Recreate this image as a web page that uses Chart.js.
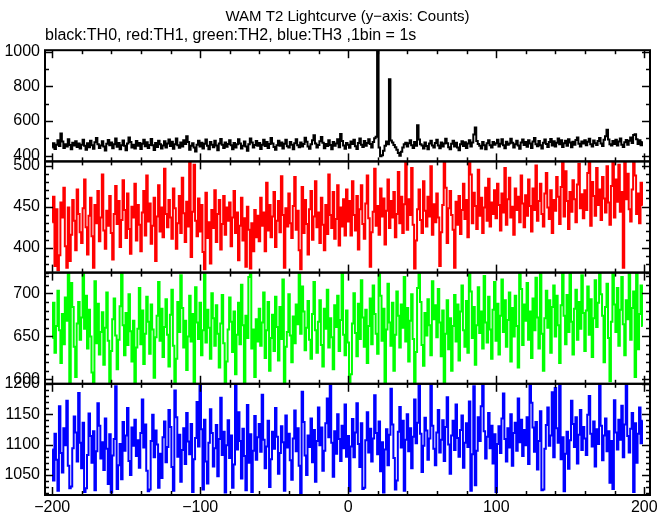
<!DOCTYPE html>
<html>
<head>
<meta charset="utf-8">
<script src="https://cdn.jsdelivr.net/npm/chart.js@4/dist/chart.umd.min.js"></script>
<style>
html,body{margin:0;padding:0;background:#fff;}
#wrap{width:669px;height:515px;}
</style>
</head>
<body>
<div id="wrap"><canvas id="c" width="669" height="515"></canvas></div>
<script>
// ---- data (counts per 1 s bin) ----
const binStart = -200;   // time of first bin (s)
const binWidth = 1;      // 1bin = 1s

const th0 = [
447,471,438,462,489,455,527,481,443,466,452,494,461,436,474,458,483,449,470,441,
463,492,457,434,471,448,486,460,439,477,501,466,444,458,482,453,429,468,490,459,
476,442,465,499,451,473,436,460,487,456,431,469,505,478,447,462,440,484,457,472,
438,468,491,454,477,443,461,496,459,432,473,450,486,465,441,458,482,447,469,493,
455,480,439,466,498,460,445,475,452,489,467,511,478,434,457,471,446,424,463,485,
452,474,441,468,493,457,437,479,462,448,485,458,430,470,496,463,444,476,451,467,
489,459,436,472,447,465,494,469,440,457,481,453,428,466,499,475,446,461,484,456,
472,438,463,491,455,478,444,467,502,470,449,433,460,486,457,475,441,468,492,454,
446,479,463,437,471,494,459,448,476,453,467,503,480,452,439,465,488,518,470,447,
461,483,507,474,442,467,455,489,461,436,478,457,470,495,448,524,484,458,439,473,
462,445,481,467,491,454,438,472,498,463,450,484,456,473,495,467,447,478,500,509,
1030,446,396,402,428,457,481,466,842,487,476,461,448,434,414,399,422,447,465,474,
452,471,488,460,443,479,457,575,493,466,458,440,475,455,437,470,486,458,447,473,
491,458,442,476,453,469,497,471,448,436,468,485,452,474,446,431,465,482,455,477,
444,470,489,452,476,522,563,484,467,457,441,478,460,436,471,488,459,446,479,463,
471,492,453,468,495,459,442,480,462,469,497,474,447,466,486,458,439,476,493,461,
478,451,488,469,444,481,502,465,454,484,460,441,474,493,467,449,479,496,458,482,
453,474,499,466,488,450,471,486,457,494,476,448,480,463,490,505,468,452,481,470,
488,459,480,497,465,452,487,471,461,484,501,469,455,491,512,549,493,466,458,484,
467,492,458,481,498,463,449,477,490,462,485,504,472,519,523,494,467,488,460,479
];
const th1 = [
431,462,378,447,373,391,455,437,473,402,376,449,384,416,458,433,397,471,441,419,
406,448,483,425,392,439,461,414,376,452,430,469,408,437,489,421,399,445,427,463,
418,386,441,475,429,457,401,434,482,446,412,466,423,393,450,437,478,409,452,428,
396,443,469,415,488,432,454,405,427,461,384,438,476,420,449,413,496,441,425,458,
437,411,472,448,399,430,463,418,485,442,407,456,426,504,389,444,501,433,414,460,
420,452,395,374,467,412,431,381,446,424,470,407,441,458,398,429,463,416,449,433,
455,402,437,469,418,443,385,427,461,409,436,377,450,422,375,430,396,446,413,439,
408,461,427,443,396,479,421,452,413,438,468,401,433,457,419,487,440,376,448,426,
466,430,412,451,486,422,445,397,374,474,418,458,429,392,447,469,410,438,481,425,
443,406,461,428,397,452,417,489,440,424,468,411,435,476,403,449,426,459,415,471,
432,457,415,481,440,421,463,398,447,476,429,411,454,488,436,377,419,444,496,427,
451,416,472,438,460,404,445,483,424,457,437,468,413,441,492,430,462,418,453,503,
422,459,440,497,428,375,409,447,471,434,418,481,445,426,462,438,499,416,453,431,
466,437,378,419,452,503,473,406,448,469,440,422,376,456,428,463,417,446,478,435,
458,413,504,489,430,467,451,423,495,439,461,418,449,473,433,484,426,455,441,470,
436,478,452,421,466,443,497,428,459,485,437,450,416,472,446,462,431,488,454,425,
464,439,483,451,420,472,446,500,433,457,478,441,426,466,491,449,435,470,418,458,
445,486,462,429,474,504,438,493,457,423,468,444,482,459,431,477,502,448,465,436,
470,446,491,505,427,480,463,439,497,452,471,434,486,460,443,499,455,428,475,506,
437,483,456,501,444,468,376,505,459,490,447,432,471,504,488,441,466,430,479,452
];
const th2 = [
648,689,631,662,703,657,619,676,641,695,668,726,594,712,684,638,603,665,690,646,
672,726,659,697,636,681,650,608,593,714,642,688,629,655,678,617,660,701,645,596,
633,670,694,651,612,646,685,724,663,628,677,640,699,656,621,668,595,637,659,706,
641,680,618,653,696,667,630,687,658,602,649,674,713,645,682,626,661,693,652,615,
675,704,639,594,624,690,655,721,683,637,668,611,650,697,644,676,597,707,666,647,
689,628,657,726,643,681,660,624,700,671,639,686,653,614,665,698,642,593,621,658,
695,667,632,679,606,652,689,641,710,663,594,674,648,719,726,636,658,603,670,644,
682,639,666,701,625,657,690,610,648,675,633,696,661,622,684,647,716,595,638,655,
699,651,620,673,642,687,664,726,653,708,679,634,660,691,646,624,676,713,657,631,
667,692,640,615,682,659,704,637,671,649,612,686,661,697,633,669,723,652,628,680,
643,594,606,665,700,654,627,688,647,715,672,638,681,619,662,694,641,709,676,653,
630,726,697,645,682,596,658,711,666,639,689,610,652,702,674,637,687,660,719,644,
683,621,668,699,647,593,632,706,726,690,640,616,677,651,693,663,628,714,670,686,
649,705,666,627,680,595,653,692,635,671,610,662,698,644,687,622,679,709,657,638,
691,631,726,702,648,684,617,663,707,654,679,636,720,666,643,696,658,624,681,713,
645,688,629,674,716,655,692,638,669,701,621,683,650,697,662,614,726,705,640,687,
668,712,646,679,625,694,657,718,672,636,726,653,610,671,703,660,692,631,684,709,
650,697,663,619,686,724,674,641,698,655,726,667,629,682,704,646,690,659,721,677,
633,680,708,652,693,626,671,715,661,689,726,699,674,620,684,711,648,598,667,726,
687,655,706,639,681,719,664,628,692,670,726,646,683,702,603,726,635,676,709,662
];
const th3 = [
1092,1041,1118,1075,1024,1163,1086,1054,1127,1099,1172,1065,1028,1031,1094,1146,1120,1072,1185,1103,
1061,1136,1022,1028,1083,1151,1114,1070,1122,1025,1089,1168,1131,1077,1104,1058,1143,1093,1035,1117,
1021,1082,1109,1196,1027,1066,1101,1043,1137,1090,1115,1160,1073,1050,1128,1098,1141,1081,1107,1062,
1119,1174,1095,1133,1057,1023,1026,1106,1149,1079,1123,1100,1029,1085,1045,1112,1138,1071,1096,1157,
1129,1063,1024,1189,1145,1080,1116,1039,1091,1127,1068,1152,1105,1084,1134,1022,1076,1111,1170,1097,
1199,1125,1026,1141,1072,1036,1103,1158,1119,1064,1094,1132,1048,1109,1177,1083,1121,1021,1099,1140,
1078,1115,1029,1067,1198,1092,1153,1106,1044,1126,1081,1025,1165,1070,1117,1022,1090,1147,1075,1112,
1134,1088,1182,1108,1061,1097,1139,1030,1076,1121,1093,1160,1113,1052,1086,1130,1104,1024,1148,1095,
1118,1074,1042,1110,1156,1089,1127,1065,1020,1187,1137,1082,1050,1115,1096,1143,1071,1124,1039,1106,
1161,1099,1128,1057,1090,1135,1176,1112,1197,1103,1047,1122,1085,1150,1109,1073,1131,1094,1166,1080,
1114,1023,1097,1142,1079,1120,1168,1101,1063,1135,1027,1029,1107,1153,1087,1126,1072,1110,1181,1119,
1084,1138,1056,1104,1021,1092,1125,1066,1116,1192,1133,1078,1026,1041,1121,1162,1095,1139,1024,1108,
1150,1089,1127,1061,1113,1174,1102,1136,1198,1118,1055,1098,1144,1123,1075,1110,1197,1131,1093,1066,
1120,1157,1087,1108,1140,1073,1129,1178,1100,1052,1115,1139,1091,1166,1111,1080,1124,1148,1062,1103,
1135,1096,1171,1024,1084,1196,1033,1090,1145,1106,1163,1199,1122,1077,1113,1152,1094,1131,1069,1117,
1022,1101,1130,1086,1143,1184,1109,1072,1127,1095,1150,1065,1119,1136,1090,1176,1104,1141,1081,1124,
1099,1145,1068,1199,1169,1128,1088,1137,1059,1106,1155,1025,1026,1093,1132,1161,1098,1115,1186,1079,
1193,1127,1103,1197,1076,1112,1023,1085,1121,1060,1107,1172,1134,1096,1145,1069,1116,1157,1091,1129,
1110,1083,1149,1180,1118,1097,1138,1064,1125,1101,1199,1131,1074,1115,1143,1089,1122,1037,1106,1027,
1173,1120,1092,1141,1108,1164,1079,1133,1199,1114,1087,1126,1152,1022,1135,1070,1118,1161,1102,1139
];

// tick labels
const xTickLabels = [-200, -100, 0, 100, 200];
const yTickLabels0 = [400, 600, 800, 1000];
const yTickLabels1 = [400, 450, 500];
const yTickLabels2 = [600, 650, 700];
const yTickLabels3 = [1050, 1100, 1150, 1200];

const seriesNames = ['TH0', 'TH1', 'TH2', 'TH3'];
// ---- end data ----

const seriesValues = [th0, th1, th2, th3];
const yTickLabels = [yTickLabels0, yTickLabels1, yTickLabels2, yTickLabels3];

const panelIds = ['y0', 'y1', 'y2', 'y3'];
const panelColors = ['#000000', '#ff0000', '#00ff00', '#0000ff'];
const panelRange = [[366, 1010], [370, 505], [595, 724], [1017, 1200]];
const panelMinor = [100, 10, 10, 10];
const panelMajor = [200, 50, 50, 50];

const FONT = "'Liberation Sans', Arial, Helvetica, sans-serif";
Chart.defaults.font.family = FONT;
Chart.defaults.color = '#000';

const fmt = v => (v < 0 ? '\u2212' + Math.abs(v) : String(v));

const datasets = seriesValues.map((vals, k) => ({
  label: seriesNames[k],
  data: vals.map((v, i) => ({ x: binStart + i * binWidth, y: v })),
  yAxisID: panelIds[k],
  borderColor: panelColors[k],
  borderWidth: 2,
  pointRadius: 0,
  stepped: 'middle',
  fill: false,
  tension: 0
}));

const scales = {
  x: {
    type: 'linear',
    position: 'bottom',
    min: -204.9,
    max: 203.9,
    grid: { display: false, drawTicks: false },
    border: { display: false },
    afterBuildTicks: s => { s.ticks = xTickLabels.map(v => ({ value: v })); },
    afterFit: s => { s.height = 20; },
    ticks: { autoSkip: false, maxRotation: 0, padding: 3, font: { size: 16 }, callback: v => fmt(v) }
  }
};
panelIds.forEach((id, k) => {
  scales[id] = {
    type: 'linear',
    position: 'left',
    stack: 'panels',
    stackWeight: 1,
    weight: 4 - k,
    offset: false,
    min: panelRange[k][0],
    max: panelRange[k][1],
    grid: { display: false, drawTicks: false },
    border: { display: false },
    afterBuildTicks: s => { s.ticks = yTickLabels[k].map(v => ({ value: v })); },
    afterFit: s => { s.width = 45; },
    ticks: { autoSkip: false, padding: 5, font: { size: 16 }, callback: v => fmt(v) }
  };
});

const framePlugin = {
  id: 'frame',
  afterDatasetsDraw(chart) {
    const ctx = chart.ctx;
    const xs = chart.scales.x;
    const L = chart.chartArea.left, R = chart.chartArea.right;
    ctx.save();
    ctx.strokeStyle = '#000';
    const seg = (x1, y1, x2, y2) => { ctx.beginPath(); ctx.moveTo(x1, y1); ctx.lineTo(x2, y2); ctx.stroke(); };
    panelIds.forEach((id, k) => {
      const s = chart.scales[id];
      const T = s.top, B = s.bottom;
      ctx.lineWidth = 1.5;
      const st = panelMinor[k];
      for (let v = Math.ceil(s.min / st) * st; v <= s.max; v += st) {
        const py = Math.round(s.getPixelForValue(v)) + 0.5;
        const len = (v % panelMajor[k] === 0) ? 8 : 4;
        seg(L, py, L + len, py);
        seg(R, py, R - len, py);
      }
      for (let v = Math.ceil(xs.min / 20) * 20; v <= xs.max; v += 20) {
        const px = Math.round(xs.getPixelForValue(v)) + 0.5;
        const len = (v % 100 === 0) ? 8 : 4;
        seg(px, T, px, T + len);
        seg(px, B, px, B - len);
      }
      ctx.lineWidth = 2;
      ctx.strokeRect(L, T, R - L, B - T);
    });
    ctx.restore();
  }
};

new Chart(document.getElementById('c'), {
  type: 'line',
  data: { datasets },
  options: {
    responsive: false,
    animation: false,
    devicePixelRatio: 1,
    layout: { padding: { left: 0, right: 19, top: 0, bottom: 0 } },
    plugins: {
      legend: { display: false },
      tooltip: { enabled: false },
      title: {
        display: true,
        text: 'WAM T2 Lightcurve (y\u2212axis: Counts)',
        font: { size: 15, weight: 'normal' },
        color: '#000',
        align: 'center',
        fullSize: false,
        padding: { top: 8, bottom: 0 }
      },
      subtitle: {
        display: true,
        text: 'black:TH0, red:TH1, green:TH2, blue:TH3 ,1bin = 1s',
        font: { size: 16, weight: 'normal' },
        color: '#000',
        align: 'start',
        fullSize: false,
        padding: { top: 0, bottom: 5 }
      }
    },
    scales
  },
  plugins: [framePlugin]
});
</script>
</body>
</html>
